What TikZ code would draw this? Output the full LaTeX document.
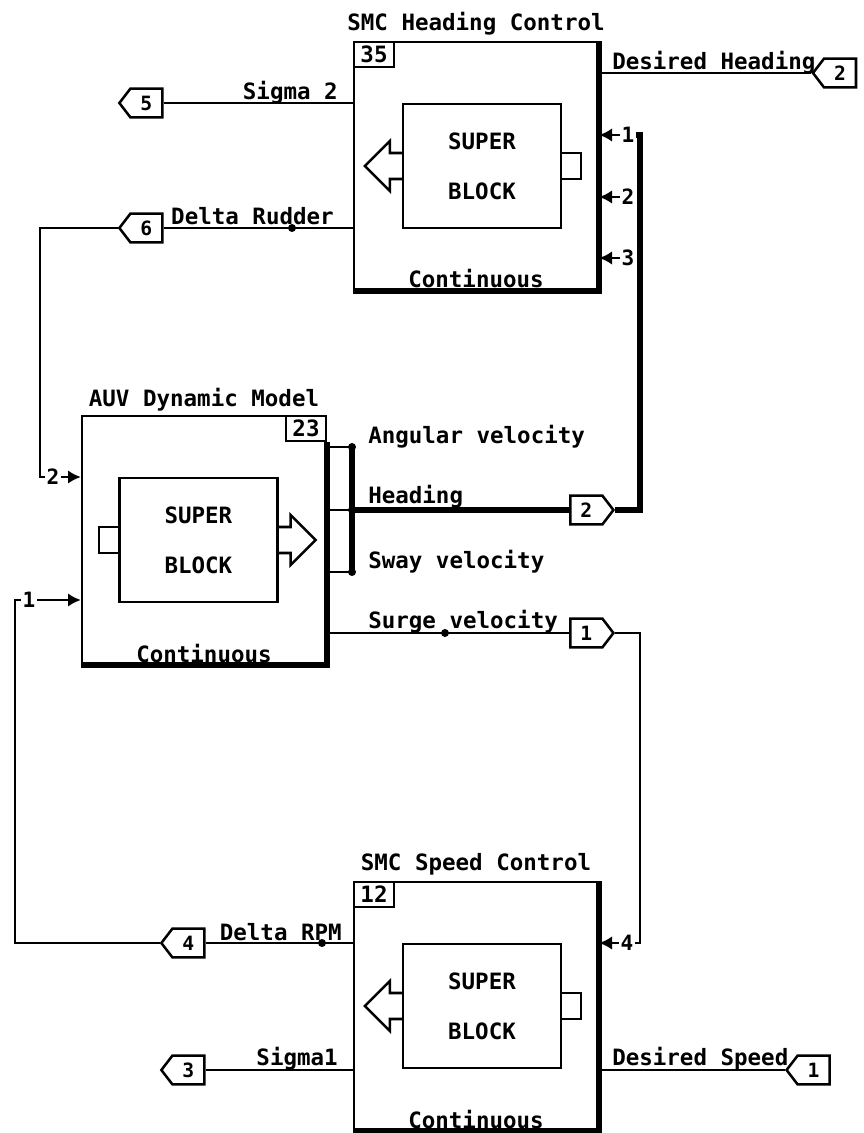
\documentclass[tikz,border=0pt]{standalone}
\usepackage{fontspec}
\setmainfont{DejaVu Sans Mono}
\usetikzlibrary{positioning, arrows.meta, shapes.symbols}

\begin{document}
\begin{tikzpicture}[
  font=\fontsize{16}{19}\selectfont\bfseries,
  cadre/.style={draw, line width=1.7pt, minimum width=6.1cm, minimum height=6.2cm, inner sep=0pt},
  coeur/.style={draw, line width=1.7pt, minimum width=3.95cm, minimum height=3.1cm, align=center,
                font=\fontsize{16}{35.6}\selectfont\bfseries},
  numero/.style={draw, line width=1.7pt, minimum width=1.0cm, minimum height=0.625cm, inner sep=0pt},
  ombre/.style={line width=4.5pt},
  borne/.style={signal, draw, line width=1.8pt, minimum width=1.075cm, minimum height=0.72cm,
                inner sep=0pt, signal pointer angle=105, font=\fontsize{14}{16}\selectfont\bfseries},
  broche/.style={inner sep=1pt, font=\fontsize{15}{17}\selectfont\bfseries},
  nom/.style={inner sep=0pt},
  fl/.style={line width=1.8pt},
  fort/.style={line width=3.6pt},
  pin/.style={line width=1.8pt, -{Latex[length=3.2mm, width=3.4mm]}},
  point/.style={circle, fill, inner sep=0pt, minimum size=0.2cm},
]
\useasboundingbox (0,0) rectangle (21.6,-28.325);
% le regulateur de cap
\node[cadre] (hdg) at (11.9,-4.15) {};
\node[coeur] (hdgc) at ([xshift=0.15cm]hdg.center) {SUPER\\BLOCK};
\node[numero, anchor=north west] (hdgn) at (hdg.north west) {35};
\node[anchor=base] (hdgt) at ([yshift=0.25cm]hdg.north) {SMC Heading Control};
\node[anchor=base] (hdgk) at ([yshift=0.08cm]hdg.south) {Continuous};
\draw[ombre] (hdg.north east) -- (hdg.south east) -- (hdg.south west);
\draw[fl] ([yshift=0.325cm]hdgc.west) -- ++(-0.3,0) -- ++(0,0.3) -- ++(-0.625,-0.625)
  -- ++(0.625,-0.625) -- ++(0,0.3) -- ++(0.3,0);
\draw[fl] ([yshift=0.325cm]hdgc.east) -- ++(0.475,0) -- ++(0,-0.65) -- ++(-0.475,0);
\node[broche] (h1) at (15.7,-3.375) {1};
\node[broche] (h2) at (15.7,-4.925) {2};
\node[broche] (h3) at (15.7,-6.45) {3};
\foreach \b in {h1,h2,h3}
  \draw[pin] (\b.west) -- (\b.west -| hdg.east);
\node[borne, signal to=west] (p5) at (3.66,-2.575) {5};
\node[borne, signal to=west] (p6) at (3.66,-5.7) {6};
\node[borne, signal to=west] (pdh) at (21.0,-1.825) {2};
\node[nom, anchor=base east] (ls2) at (8.45,-2.5) {Sigma 2};
\node[nom, anchor=base east] (ldr) at (8.35,-5.62) {Delta Rudder};
\node[nom, anchor=base west] (ldh) at (15.3,-1.75) {Desired Heading};
% le modele dynamique
\node[cadre] (auv) at (5.1,-13.5) {};
\node[coeur] (auvc) at ([xshift=-0.14cm]auv.center) {SUPER\\BLOCK};
\node[numero, anchor=north east] (auvn) at (auv.north east) {23};
\node[anchor=base] (auvt) at ([yshift=0.22cm]auv.north) {AUV Dynamic Model};
\node[anchor=base] (auvk) at ([yshift=0.08cm]auv.south) {Continuous};
\draw[ombre] (auvn.south east) -- (auv.south east) -- (auv.south west);
\draw[fl] ([yshift=0.325cm]auvc.east) -- ++(0.3,0) -- ++(0,0.3) -- ++(0.625,-0.625)
  -- ++(-0.625,-0.625) -- ++(0,0.3) -- ++(-0.3,0);
\draw[fl] ([yshift=0.325cm]auvc.west) -- ++(-0.475,0) -- ++(0,-0.65) -- ++(0.475,0);
\node[broche] (a2) at (1.325,-11.925) {2};
\node[broche] (a1) at (0.725,-15.0) {1};
\foreach \b in {a1,a2}
  \draw[pin] (\b.east) -- (\b.east -| auv.west);
\coordinate (bA) at (8.8,-11.175);
\coordinate (bH) at (8.8,-12.75);
\coordinate (bS) at (8.8,-14.3);
\node[borne, signal to=east] (phd) at (14.66,-12.75) {2};
\node[borne, signal to=east] (psv) at (14.66,-15.825) {1};
\node[nom, anchor=base west] (lav) at (9.2,-11.075) {Angular velocity};
\node[nom, anchor=base west] (lhd) at (9.2,-12.575) {Heading};
\node[nom, anchor=base west] (lsw) at (9.2,-14.2) {Sway velocity};
\node[nom, anchor=base west] (lsu) at (9.2,-15.7) {Surge velocity};
% le regulateur de vitesse
\node[cadre] (spd) at (11.9,-25.15) {};
\node[coeur] (spdc) at ([xshift=0.15cm]spd.center) {SUPER\\BLOCK};
\node[numero, anchor=north west] (spdn) at (spd.north west) {12};
\node[anchor=base] (spdt) at ([yshift=0.25cm]spd.north) {SMC Speed Control};
\node[anchor=base] (spdk) at ([yshift=0.08cm]spd.south) {Continuous};
\draw[ombre] (spd.north east) -- (spd.south east) -- (spd.south west);
\draw[fl] ([yshift=0.325cm]spdc.west) -- ++(-0.3,0) -- ++(0,0.3) -- ++(-0.625,-0.625)
  -- ++(0.625,-0.625) -- ++(0,0.3) -- ++(0.3,0);
\draw[fl] ([yshift=0.325cm]spdc.east) -- ++(0.475,0) -- ++(0,-0.65) -- ++(-0.475,0);
\node[broche] (s4) at (15.675,-23.575) {4};
\draw[pin] (s4.west) -- (s4.west -| spd.east);
\node[borne, signal to=west] (p4) at (4.71,-23.575) {4};
\node[borne, signal to=west] (p3) at (4.71,-26.75) {3};
\node[borne, signal to=west] (pds) at (20.34,-26.75) {1};
\node[nom, anchor=base east] (lrpm) at (8.55,-23.5) {Delta RPM};
\node[nom, anchor=base east] (ls1) at (8.45,-26.625) {Sigma1};
\node[nom, anchor=base west] (lds) at (15.3,-26.625) {Desired Speed};
% liaisons
\draw[fl] (p5.east) -- (p5.east -| hdg.west);
\draw[fl] (p6.east) -- (p6.east -| hdg.west);
\node[point] (dR) at (7.3,-5.7) {};
\draw[fl] (pdh.west -| hdg.east) -- (pdh.west);
\foreach \c in {bA,bH,bS}
  \draw[fl] (\c -| auv.east) -- (\c);
\draw[fort] (bA) -- (bS);
\draw[fort] (bH) -- (phd.west);
\node[point] at (bA) {};
\node[point] at (bH) {};
\node[point] at (bS) {};
\draw[fl] (psv.west -| auv.east) -- (psv.west);
\node[point] (dS) at (11.125,-15.825) {};
\draw[fl] (p4.east) -- (p4.east -| spd.west);
\node[point] (dP) at (8.05,-23.575) {};
\draw[fl] (p3.east) -- (p3.east -| spd.west);
\draw[fl] (pds.west -| spd.east) -- (pds.west);
\coordinate (cR) at (1.0,-11.925);
\draw[fl] (p6.west) -| (cR) -- (a2.west);
\coordinate (cP) at (0.375,-23.575);
\draw[fl] (a1.west) -| (cP) -- (p4.west);
\coordinate (cH) at (16.0,-12.75);
\draw[fort] (h1.east) -| (cH) -- (phd.east);
\coordinate (cS) at (16.0,-23.575);
\draw[fl] (psv.east) -| (cS) -- (s4.east);
\end{tikzpicture}
\end{document}
